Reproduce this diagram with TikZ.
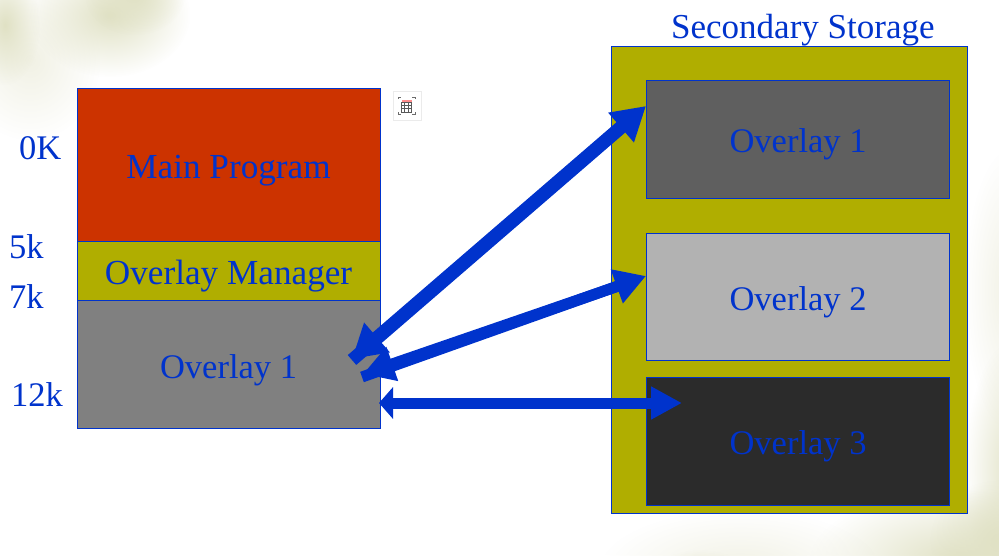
\documentclass[tikz,border=0pt]{standalone}
\usepackage{fontspec}
\setmainfont{Liberation Serif}
\usetikzlibrary{arrows.meta,fadings,shadows}
\definecolor{ink}{HTML}{0033CC}
\definecolor{olivefill}{HTML}{B0AE00}
\definecolor{blot}{HTML}{E0E1C4}
\definecolor{pale}{HTML}{F1F1E4}
\tikzset{
  box/.style={draw=ink,line width=1.1pt,inner sep=0pt,text=ink,font=\fontsize{34.5}{35}\selectfont,text height=27pt,text depth=0pt,anchor=north west},
  lbl/.style={text=ink,font=\fontsize{34.5}{35}\selectfont,inner sep=0pt,anchor=base west},
  wide/.style={line width=13pt,color=ink,-{Triangle[length=33pt,width=37pt]}},
  mid/.style={line width=11pt,color=ink,-{Triangle[length=31pt,width=34pt]}},
  blotch/.style={fill=blot,path fading=fuzzy,draw=none},
  paleblotch/.style={fill=pale,path fading=fuzzy,draw=none},
}
\tikzfading[name=fuzzy,inner color=transparent!0,middle color=transparent!0,outer color=transparent!100]
\begin{document}
\begin{tikzpicture}[x=1pt,y=-1pt]
\useasboundingbox (0,0) rectangle (999,555);
\fill[white] (0,0) rectangle (999,555);
% background blotches
\begin{scope}
\clip (0,0) rectangle (999,555);
\fill[paleblotch] (30,60) ellipse [x radius=70,y radius=80];
\fill[blotch] (110,15) ellipse [x radius=80,y radius=62];
\fill[blotch] (135,-5) ellipse [x radius=50,y radius=40];
\fill[blotch] (5,25) ellipse [x radius=35,y radius=60];
\fill[paleblotch] (1010,290) ellipse [x radius=45,y radius=140];
\fill[blotch] (1015,470) ellipse [x radius=50,y radius=130];
\fill[blotch] (960,560) ellipse [x radius=150,y radius=70];
\fill[blotch] (1000,540) ellipse [x radius=70,y radius=60];
\fill[paleblotch] (740,570) ellipse [x radius=140,y radius=60];
\fill[blotch] (700,590) ellipse [x radius=60,y radius=40];
\end{scope}
% memory stack
\node[box,font=\fontsize{35.2}{35}\selectfont,fill={rgb,255:red,204;green,51;blue,0},minimum width=303pt,minimum height=153pt] (main) at (76.5,88) {Main Program};
\node[box,font=\fontsize{35.2}{35}\selectfont,fill=olivefill,minimum width=303pt,minimum height=59pt] (mgr) at (76.5,241) {Overlay Manager};
\node[box,fill={rgb,255:red,128;green,128;blue,128},minimum width=303pt,minimum height=128pt] (ov) at (76.5,300) {Overlay 1};
% secondary storage
\node[box,fill=olivefill,minimum width=356pt,minimum height=467pt] (sec) at (611,45.5) {};
\node[box,fill={rgb,255:red,95;green,95;blue,95},minimum width=303pt,minimum height=118pt] (s1) at (646,79.5) {Overlay 1};
\node[box,fill={rgb,255:red,178;green,178;blue,178},minimum width=303pt,minimum height=127pt] (s2) at (646,232.5) {Overlay 2};
\node[box,fill={rgb,255:red,43;green,43;blue,43},minimum width=303pt,minimum height=128pt] (s3) at (646,376.5) {Overlay 3};
% labels
\node[lbl,font=\fontsize{35}{35}\selectfont] (title) at (671,38) {Secondary Storage};
\node[lbl] (k0) at (19,159) {0K};
\node[lbl] (k5) at (9,258) {5k};
\node[lbl] (k7) at (9,308) {7k};
\node[lbl] (k12) at (11,406) {12k};
% icon
\node[draw=black!8,fill=white,minimum width=28pt,minimum height=29pt,inner sep=0pt,anchor=north west,drop shadow={shadow xshift=0.8pt,shadow yshift=-0.8pt,opacity=0.18}] (icon) at (393,91) {};
\draw[gray!85!black,line width=1pt] (398,99) -- (398,97) -- (401,97) (412,97) -- (415,97) -- (415,99) (398,112) -- (398,114) -- (401,114) (412,114) -- (415,114) -- (415,112);
\fill[red!45!white] (401.5,100) rectangle (411.5,102);
\draw[gray!70!black,line width=0.9pt] (401.5,102) rectangle (411.5,112) (401.5,105.3) -- (411.5,105.3) (401.5,108.6) -- (411.5,108.6) (404.8,102) -- (404.8,112) (408.1,102) -- (408.1,112);
% connector ends
\coordinate (a1low) at (352,360);
\coordinate (a1tip) at (646,106);
\coordinate (a1top) at (636,114);
\coordinate (a1lowtip) at (352,359);
\coordinate (a2low) at (362,377);
\coordinate (a2tip) at (646,276);
\coordinate (a2top) at (636,280);
\coordinate (a2lowtip) at (363,374);
\coordinate (a3low) at (379,403);
\coordinate (a3tip) at (682,403);
% arrows
\draw[wide] (a1low) -- (a1tip);
\draw[wide] (a1top) -- (a1lowtip);
\draw[mid] (a2low) -- (a2tip);
\draw[mid] (a2top) -- (a2lowtip);
\draw[line width=11pt,color=ink,{Triangle[length=14pt,width=31pt]}-{Triangle[length=31pt,width=31pt]}] (a3low) -- (a3tip);
\end{tikzpicture}
\end{document}
